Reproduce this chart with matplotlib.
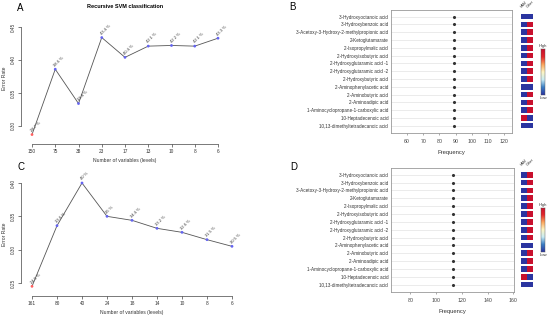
import matplotlib
matplotlib.use('Agg')
import matplotlib.pyplot as plt
from matplotlib.colors import LinearSegmentedColormap
import numpy as np

plt.rcParams['font.family'] = ['Liberation Sans', 'DejaVu Sans']

# ---- data ----
a_levels = ['150', '75', '38', '23', '17', '13', '10', '8', '6']
a_err = [0.287, 0.386, 0.334, 0.434, 0.404, 0.421, 0.422, 0.421, 0.433]
c_levels = ['161', '80', '40', '24', '18', '14', '10', '8', '6']
c_err = [0.245, 0.336, 0.40, 0.35, 0.344, 0.332, 0.326, 0.315, 0.305]

metabolites = ['3-Hydroxyoctanoic acid', '3-Hydroxybenzoic acid',
               '3-Acetoxy-3-Hydroxy-2-methylpropionic acid', '2-Ketoglutamarate',
               '2-Isopropylmalic acid', '2-Hydroxyisobutyric acid',
               '2-Hydroxyglutaramic acid -1', '2-Hydroxyglutaramic acid -2',
               '2-Hydroxybutyric acid', '2-Aminophenylacetic acid',
               '2-Aminobutyric acid', '2-Aminoadipic acid',
               '1-Aminocyclopropane-1-carboxylic acid', '10-Heptadecenoic acid',
               '10,13-dimethyltetradecanoic acid']
b_freq = [89, 89, 89, 89, 89, 89, 89, 89, 89, 89, 89, 89, 89, 89, 89]
d_freq = [113, 113, 113, 113, 113, 113, 113, 113, 113, 113, 113, 113, 113, 113, 113]
groups = ['HAM', 'Other']
# 0 = low, 1 = high
b_heat = [[0, 0], [0, 1], [0, 1], [0, 1], [0, 1], [0, 1], [0, 1], [0, 1],
          [0, 1], [0, 0], [0, 1], [0, 1], [0, 1], [1, 0], [0, 0]]
d_heat = [[0, 1], [0, 1], [0, 1], [0, 1], [0, 1], [0, 1], [0, 1], [0, 1],
          [0, 1], [0, 0], [0, 1], [0, 1], [0, 1], [1, 0], [0, 0]]

W, H = 550, 322
fig = plt.figure(figsize=(W / 100, H / 100), dpi=100)


def box(l, t, r, b):
    return [l / W, 1 - b / H, (r - l) / W, (b - t) / H]


cmap = LinearSegmentedColormap.from_list(
    'hl', ['#2b35a0', '#3b7fc4', '#c9ecf4', '#fff5c2', '#fca55d', '#e3262b', '#c8102e'])


def line_panel(rect, levels, err, ylim, yticks, xoff, yoff, title=None):
    ax = fig.add_axes(box(*rect))
    # spine positions first (setting them resets the ticks)
    for s in ['top', 'right']:
        ax.spines[s].set_visible(False)
    ax.spines['left'].set_position(('outward', xoff))
    ax.spines['bottom'].set_position(('outward', yoff))

    x = list(range(len(levels)))
    ax.plot(x, err, color='#555555', lw=0.6, zorder=1)
    cols = ['#ff6060'] + ['#6464f0'] * (len(err) - 1)
    ax.scatter(x, err, s=4, c=cols, zorder=2, clip_on=False, linewidths=0)
    for xi, v in zip(x, err):
        s = ('%.1f' % (v * 100)).replace('.0', '') + ' %'
        ax.text(xi + 0.04, v + 0.003, s, rotation=45, rotation_mode='anchor',
                ha='left', va='bottom', fontsize=3, color='#333333')
    ax.set_xlim(0, len(levels) - 1)
    ax.set_ylim(*ylim)
    ax.set_xticks(x)
    ax.set_xticklabels(levels, fontsize=3.4, color='#333333')
    ax.set_yticks(yticks)
    ax.set_yticklabels(['%.2f' % t for t in yticks], fontsize=3.4, rotation=90,
                       va='center', color='#333333')
    ax.spines['left'].set_bounds(yticks[0], yticks[-1])
    ax.spines['bottom'].set_bounds(0, len(levels) - 1)
    for s in ['left', 'bottom']:
        ax.spines[s].set_linewidth(0.5)
        ax.spines[s].set_color('#444444')
    ax.tick_params(length=2, width=0.5, pad=1.5, color='#444444')
    ax.set_xlabel('Number of variables (levels)', fontsize=3.6, labelpad=3, color='#333333')
    ax.set_ylabel('Error Rate', fontsize=3.6, labelpad=3, color='#333333')
    ax.patch.set_alpha(0)
    if title:
        ax.set_title(title, fontsize=4, fontweight='bold', pad=9)
    return ax


line_panel((32, 20, 218, 136), a_levels, a_err, (0.2848, 0.4606),
           [0.30, 0.35, 0.40, 0.45], 8, 5.8, 'Recursive SVM classification')
line_panel((32, 178, 232, 290), c_levels, c_err, (0.2395, 0.4075),
           [0.25, 0.30, 0.35, 0.40], 8, 4.3)


def dot_panel(rect, freq, heat, xlim, xticks, heat_rect, cbar_rect):
    ax = fig.add_axes(box(*rect))
    y = list(range(len(metabolites)))
    for yi in y:
        ax.axhline(yi, color='#ebebeb', lw=0.7, zorder=0)
    ax.scatter(freq, y, s=5, color='#333333', zorder=2, linewidths=0)
    ax.set_ylim(len(metabolites) - 0.06, -0.86)
    ax.set_xlim(*xlim)
    ax.set_yticks(y)
    ax.set_yticklabels(metabolites, fontsize=3.3, color='#333333')
    ax.set_xticks(xticks)
    ax.set_xticklabels([str(t) for t in xticks], fontsize=3.8, color='#444444')
    ax.tick_params(axis='y', length=0, pad=2)
    ax.tick_params(axis='x', length=1.5, width=0.5, pad=3, color='#888888')
    for s in ax.spines.values():
        s.set_color('#999999')
        s.set_linewidth(0.6)
    ax.set_xlabel('Frequency', fontsize=4.2, labelpad=4, color='#333333')

    hx = fig.add_axes(box(*heat_rect))
    for j in range(len(groups)):
        vals = [float(r[j]) for r in heat]
        hx.barh(y, [0.92] * len(y), left=j + 0.04, height=0.72,
                color=[cmap(v) for v in vals])
        hx.text(j + 0.3, -1.0, groups[j], rotation=45, fontsize=2.6,
                ha='left', va='bottom', rotation_mode='anchor', color='#333333')
    hx.set_xlim(0, len(groups))
    hx.set_ylim(len(metabolites) - 0.06, -0.86)
    hx.axis('off')

    cx = fig.add_axes(box(*cbar_rect))
    cx.imshow(np.linspace(1, 0, 100).reshape(-1, 1), cmap=cmap, aspect='auto')
    cx.set_xticks([])
    cx.set_yticks([])
    for s in cx.spines.values():
        s.set_linewidth(0.3)
        s.set_color('#555555')
    cx.text(0.5, 1.03, 'High', transform=cx.transAxes, fontsize=3, ha='center',
            va='bottom', color='#333333')
    cx.text(0.5, -0.03, 'Low', transform=cx.transAxes, fontsize=3, ha='center',
            va='top', color='#333333')


dot_panel((391, 10, 512, 133), b_freq, b_heat, (50, 125),
          [60, 70, 80, 90, 100, 110, 120], (521, 10, 533, 133), (541, 49, 545, 95))
dot_panel((391, 168, 514, 292), d_freq, d_heat, (65, 160.5),
          [80, 100, 120, 140, 160], (521, 168, 533, 292), (541, 208, 545, 252))

for letter, (px, py) in zip('ABCD', [(17, 11), (289, 10), (17, 170), (290, 170)]):
    fig.text(px / W, 1 - py / H, letter, fontsize=7, ha='left', va='baseline')

fig.savefig('out.png', dpi=100)
